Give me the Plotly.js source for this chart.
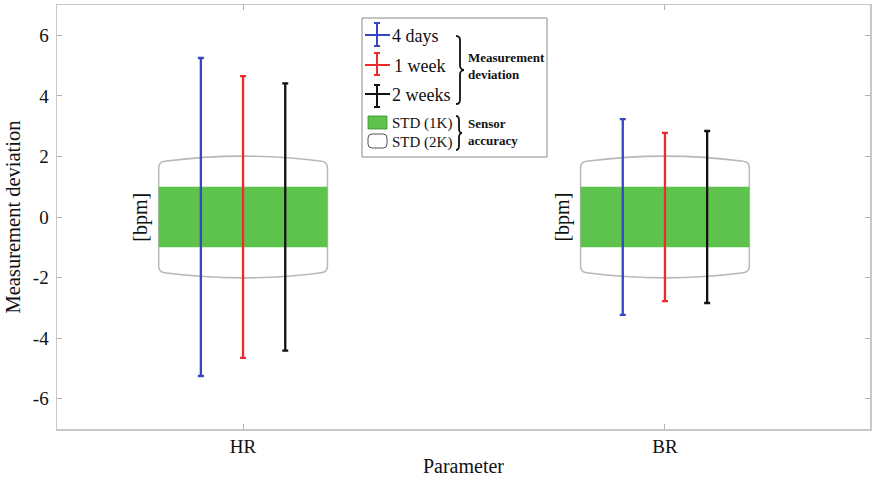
<!DOCTYPE html>
<html>
<head>
<meta charset="utf-8">
<script src="https://cdn.plot.ly/plotly-3.0.1.min.js"></script>
<style>html,body{margin:0;padding:0;background:#fff;}#chart{width:872px;height:480px;}</style>
</head>
<body>
<div id="chart"></div>
<script>
// ---- data ----
const categories = ['HR', 'BR'];
const seriesNames = ['4 days', '1 week', '2 weeks'];
const dev4days  = [5.25, 3.23];
const dev1week  = [4.65, 2.78];
const dev2weeks = [4.41, 2.84];
const std1K = [1.0, 1.0];
const std2K = [2.0, 2.0];
const yTicks = [-6, -4, -2, 0, 2, 4, 6];

// ---- styling ----
const FONT = 'Liberation Serif, Times New Roman, serif';
const colors = ['#3446c0', '#ec2b2b', '#111111'];
const offsets = [-0.1, 0, 0.1];
const boxHalf = 0.2;
const catPos = categories.map((c, i) => i + 1);
const devs = [dev4days, dev1week, dev2weeks];

const traces = devs.map((d, k) => ({
  type: 'scatter', mode: 'markers',
  x: catPos.map(p => p + offsets[k]),
  y: catPos.map(() => 0),
  marker: {size: 1, color: 'rgba(0,0,0,0)'},
  error_y: {type: 'data', array: d, symmetric: true, color: colors[k], thickness: 2.3, width: 3},
  name: seriesNames[k], showlegend: false, hoverinfo: 'skip'
}));

// plot area in px
const L = 57, R = 2, T = 5, B = 51, W = 872 - L - R, H = 480 - T - B;
const px = x => (x - L) / W;
const py = y => 1 - (y - T) / H;

const shapes = [];
const annotations = [];

catPos.forEach((p, i) => {
  const s2 = std2K[i], s1 = std1K[i];
  const e = 0.91 * s2, r = 0.1 * s2;
  const x0 = p - boxHalf, x1 = p + boxHalf, dx = 0.014;
  const path = `M ${x0} ${-e + r} L ${x0} ${e - r} Q ${x0} ${e} ${x0 + dx} ${e + 0.02} ` +
    `Q ${p} ${2 * s2 - e} ${x1 - dx} ${e + 0.02} Q ${x1} ${e} ${x1} ${e - r} L ${x1} ${-e + r} ` +
    `Q ${x1} ${-e} ${x1 - dx} ${-e - 0.02} Q ${p} ${-(2 * s2 - e)} ${x0 + dx} ${-e - 0.02} Q ${x0} ${-e} ${x0} ${-e + r} Z`;
  shapes.push({type: 'path', xref: 'x', yref: 'y', path: path, fillcolor: '#ffffff',
    line: {color: '#b8b8b8', width: 1.5}, layer: 'below'});
  shapes.push({type: 'rect', xref: 'x', yref: 'y', x0: x0, x1: x1, y0: -s1, y1: s1,
    fillcolor: '#5ec34c', line: {width: 0}, layer: 'below'});
  annotations.push({xref: 'x', yref: 'y', x: p - 0.245, y: 0, text: '[bpm]', showarrow: false,
    textangle: -90, font: {family: FONT, size: 20, color: '#111'}});
});

// ---- custom legend ----
shapes.push({type: 'rect', xref: 'paper', yref: 'paper', x0: px(362), x1: px(547), y0: py(157), y1: py(18),
  fillcolor: '#ffffff', line: {color: '#8a8a8a', width: 1}, layer: 'above'});
const legY = [[23, 35, 46], [53, 65, 75], [85, 94, 107]];
const legTextX = [392, 394, 392];
legY.forEach((v, k) => {
  const lw = 2;
  shapes.push({type: 'line', xref: 'paper', yref: 'paper', x0: px(377), x1: px(377), y0: py(v[0]), y1: py(v[2]), line: {color: colors[k], width: lw}});
  shapes.push({type: 'line', xref: 'paper', yref: 'paper', x0: px(365), x1: px(390), y0: py(v[1]), y1: py(v[1]), line: {color: colors[k], width: lw}});
  shapes.push({type: 'line', xref: 'paper', yref: 'paper', x0: px(374), x1: px(380), y0: py(v[0]), y1: py(v[0]), line: {color: colors[k], width: lw}});
  shapes.push({type: 'line', xref: 'paper', yref: 'paper', x0: px(374), x1: px(380), y0: py(v[2]), y1: py(v[2]), line: {color: colors[k], width: lw}});
  annotations.push({xref: 'paper', yref: 'paper', x: px(legTextX[k] - 2), y: py(v[1] + 1), xanchor: 'left', yanchor: 'middle',
    text: seriesNames[k], showarrow: false, font: {family: FONT, size: 18, color: '#111'}});
});
// green and outline legend patches
shapes.push({type: 'rect', xref: 'paper', yref: 'paper', x0: px(368), x1: px(387), y0: py(129), y1: py(116),
  fillcolor: '#5ec34c', line: {color: '#3c8a30', width: 0.8}});
shapes.push({type: 'path', xref: 'paper', yref: 'paper',
  path: `M ${px(372)} ${py(134)} L ${px(383)} ${py(134)} Q ${px(387)} ${py(134)} ${px(387)} ${py(138)} L ${px(387)} ${py(144)} Q ${px(387)} ${py(148)} ${px(383)} ${py(148)} L ${px(372)} ${py(148)} Q ${px(368)} ${py(148)} ${px(368)} ${py(144)} L ${px(368)} ${py(138)} Q ${px(368)} ${py(134)} ${px(372)} ${py(134)} Z`,
  fillcolor: '#ffffff', line: {color: '#555', width: 1}});
annotations.push({xref: 'paper', yref: 'paper', x: px(390), y: py(123), xanchor: 'left', yanchor: 'middle',
  text: 'STD (1K)', showarrow: false, font: {family: FONT, size: 15, color: '#111'}});
annotations.push({xref: 'paper', yref: 'paper', x: px(390), y: py(142), xanchor: 'left', yanchor: 'middle',
  text: 'STD (2K)', showarrow: false, font: {family: FONT, size: 15, color: '#111'}});

// braces
function brace(xl, yTop, yBot, bw) {
  const ym = (yTop + yBot) / 2;
  const xm = xl + bw;
  return `M ${px(xl)} ${py(yTop)} C ${px(xl + bw * 0.6)} ${py(yTop)} ${px(xl + bw * 0.5)} ${py(yTop + 4)} ${px(xl + bw * 0.5)} ${py(yTop + 8)} ` +
    `L ${px(xl + bw * 0.5)} ${py(ym - 4)} C ${px(xl + bw * 0.5)} ${py(ym - 1)} ${px(xm - 1)} ${py(ym)} ${px(xm)} ${py(ym)} ` +
    `C ${px(xm - 1)} ${py(ym)} ${px(xl + bw * 0.5)} ${py(ym + 1)} ${px(xl + bw * 0.5)} ${py(ym + 4)} ` +
    `L ${px(xl + bw * 0.5)} ${py(yBot - 8)} C ${px(xl + bw * 0.5)} ${py(yBot - 4)} ${px(xl + bw * 0.6)} ${py(yBot)} ${px(xl)} ${py(yBot)}`;
}
shapes.push({type: 'path', xref: 'paper', yref: 'paper', path: brace(456, 36, 104, 8), line: {color: '#111', width: 1.8}});
shapes.push({type: 'path', xref: 'paper', yref: 'paper', path: brace(456, 116, 150, 6), line: {color: '#111', width: 1.8}});
annotations.push({xref: 'paper', yref: 'paper', x: px(466), y: py(66), xanchor: 'left', yanchor: 'middle', align: 'left',
  text: '<b>Measurement</b><br><b>deviation</b>', showarrow: false, font: {family: FONT, size: 13, color: '#111'}});
annotations.push({xref: 'paper', yref: 'paper', x: px(466), y: py(132), xanchor: 'left', yanchor: 'middle', align: 'left',
  text: '<b>Sensor</b><br><b>accuracy</b>', showarrow: false, font: {family: FONT, size: 13, color: '#111'}});

const layout = {
  width: 872, height: 480,
  margin: {l: L, r: R, t: T, b: B},
  paper_bgcolor: '#ffffff', plot_bgcolor: '#ffffff',
  font: {family: FONT, color: '#111'},
  showlegend: false,
  xaxis: {
    range: [0.559, 2.486], tickvals: catPos, ticktext: categories,
    showgrid: false, zeroline: false, showline: true, mirror: 'ticks', linecolor: '#c8c8c8', linewidth: 1.5,
    ticks: 'inside', ticklen: 5, tickcolor: '#b0b0b0', tickfont: {family: FONT, size: 19, color: '#111'},
    title: {text: 'Parameter', font: {family: FONT, size: 20, color: '#111'}, standoff: 2}
  },
  yaxis: {
    range: [-7, 7], tickvals: yTicks, ticktext: yTicks.map(String),
    showgrid: false, zeroline: false, showline: true, mirror: 'ticks', linecolor: '#c8c8c8', linewidth: 1.5,
    ticks: 'inside', ticklen: 5, tickcolor: '#b0b0b0', tickfont: {family: FONT, size: 19, color: '#111'},
    ticklabelstandoff: 3,
    title: {text: 'Measurement deviation', font: {family: FONT, size: 20.5, color: '#111'}, standoff: 6}
  },
  shapes: shapes,
  annotations: annotations
};

Plotly.newPlot('chart', traces, layout, {displayModeBar: false, staticPlot: true});
</script>
</body>
</html>
